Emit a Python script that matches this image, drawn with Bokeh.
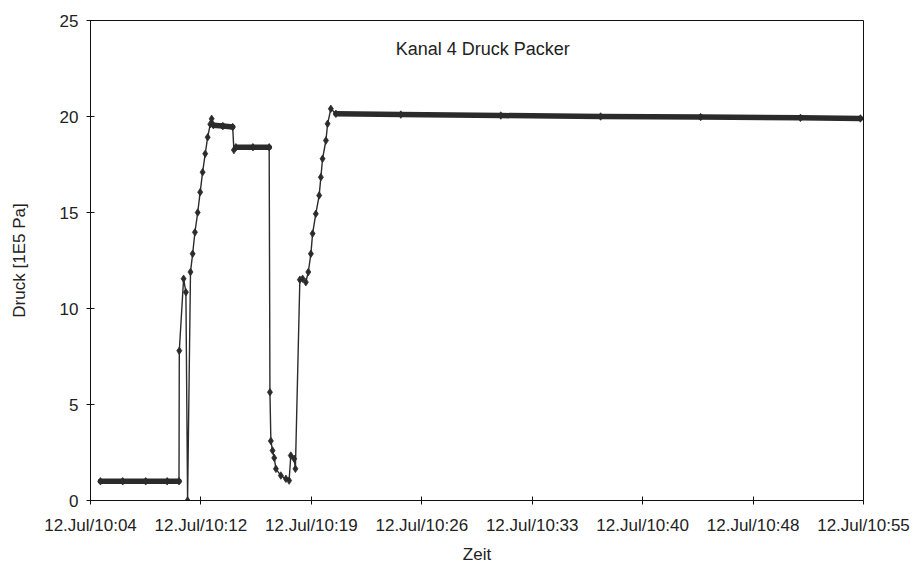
from bokeh.plotting import figure
from bokeh.models import Range1d, FixedTicker, Label
from bokeh.embed import file_html
from bokeh.resources import INLINE

# time in minutes after 10:00 on 12 Jul, pressure in 1E5 Pa
zeit_min = [5.55, 7.0, 8.5, 9.9, 10.67, 10.69, 10.97, 11.12, 11.23, 11.42,
            11.56, 11.71, 11.89, 12.05, 12.21, 12.38, 12.54, 12.71, 12.80, 12.91,
            13.53, 14.17, 14.25, 14.38, 15.49, 16.55, 16.60, 16.66, 16.77, 16.88,
            16.99, 17.31, 17.64, 17.85, 17.96, 18.18, 18.26, 18.55, 18.73, 18.94,
            19.10, 19.27, 19.38, 19.59, 19.81, 19.92, 20.03, 20.25, 20.36, 20.57,
            20.90, 25.13, 31.65, 38.16, 44.68, 51.19, 55.10]
druck = [1.0, 1.0, 1.0, 1.0, 1.0, 7.8, 11.55, 10.85, 0.0, 11.9,
         12.85, 13.97, 15.0, 16.06, 17.1, 18.06, 18.92, 19.6, 19.88, 19.55,
         19.5, 19.45, 18.25, 18.4, 18.4, 18.4, 5.64, 3.1, 2.6, 2.22,
         1.65, 1.3, 1.13, 1.04, 2.34, 2.17, 1.65, 11.5, 11.55, 11.37,
         11.9, 12.85, 13.9, 14.93, 15.89, 16.84, 17.8, 18.75, 19.62, 20.4,
         20.14, 20.1, 20.05, 20.0, 19.97, 19.93, 19.9]

x_ticks = [4.9, 12.1, 19.3, 26.5, 33.7, 40.9, 48.1, 55.3]
x_labels = ["12.Jul/10:04", "12.Jul/10:12", "12.Jul/10:19", "12.Jul/10:26",
            "12.Jul/10:33", "12.Jul/10:40", "12.Jul/10:48", "12.Jul/10:55"]
y_ticks = [0, 5, 10, 15, 20, 25]

title_text = "Kanal 4 Druck Packer"
x_title = "Zeit"
y_title = "Druck [1E5 Pa]"

FONT = "Liberation Sans"
INK = "#2b2b2b"

p = figure(width=913, height=566, output_backend="svg", toolbar_location=None,
           x_range=Range1d(x_ticks[0], x_ticks[-1]), y_range=Range1d(0, 25),
           min_border_left=90, min_border_right=50, min_border_top=20,
           min_border_bottom=66)
p.background_fill_color = "white"
p.border_fill_color = "white"
p.outline_line_color = "#111111"
p.outline_line_width = 1
p.xgrid.visible = False
p.ygrid.visible = False

# dense logging on holds -> overlapping markers look like a thick band
x0, y0, x1, y1 = [], [], [], []
for i in range(len(zeit_min) - 1):
    if abs(druck[i + 1] - druck[i]) < 0.12 and zeit_min[i + 1] - zeit_min[i] > 0.3:
        x0.append(zeit_min[i]); y0.append(druck[i])
        x1.append(zeit_min[i + 1]); y1.append(druck[i + 1])
p.segment(x0, y0, x1, y1, line_color=INK, line_width=5.5, line_cap="round")

p.line(zeit_min, druck, line_color=INK, line_width=1.4)
p.scatter(zeit_min, druck, marker="diamond", size=7.5, fill_color=INK,
          line_color=INK, line_width=0.8)

p.xaxis.ticker = FixedTicker(ticks=x_ticks)
p.xaxis.major_label_overrides = {t: l for t, l in zip(x_ticks, x_labels)}
p.yaxis.ticker = FixedTicker(ticks=y_ticks)
p.xaxis.minor_tick_line_color = None
p.yaxis.minor_tick_line_color = None
for ax in (p.xaxis, p.yaxis):
    ax.major_tick_in = 4
    ax.major_tick_out = 4
    ax.axis_line_color = "#111111"
    ax.major_tick_line_color = "#111111"
    ax.major_label_text_font = FONT
    ax.major_label_text_color = "#222222"
    ax.axis_label_text_font = FONT
    ax.axis_label_text_font_style = "normal"
    ax.axis_label_text_color = "#222222"

p.xaxis.major_label_text_font_size = "17px"
p.yaxis.major_label_text_font_size = "17px"
p.xaxis.major_label_standoff = 11
p.yaxis.major_label_standoff = 8
p.xaxis.axis_label = x_title
p.yaxis.axis_label = y_title
p.xaxis.axis_label_text_font_size = "17px"
p.yaxis.axis_label_text_font_size = "17px"
p.xaxis.axis_label_standoff = 7
p.yaxis.axis_label_standoff = 28

p.add_layout(Label(x=30.48, y=23.54, text=title_text, text_font=FONT,
                   text_font_size="18px", text_color="#222222",
                   text_align="center", text_baseline="middle"))

open("out.html", "w").write(file_html(p, INLINE))
